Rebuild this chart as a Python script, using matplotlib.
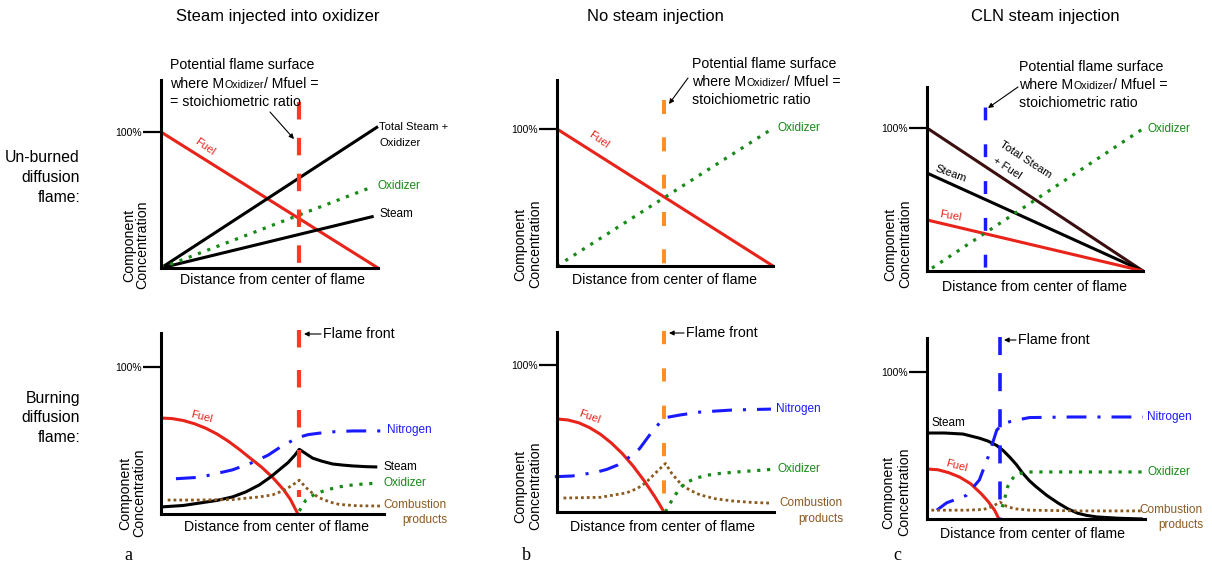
import matplotlib
matplotlib.use('Agg')
import matplotlib.pyplot as plt
from matplotlib import font_manager as fm
from matplotlib.transforms import Affine2D
from matplotlib.patches import FancyArrowPatch

# ---------------- data (x: fraction of distance axis, y: fraction of 100%) -------------
# Panel a (steam injected into oxidizer) - unburned
a_top_fuel_x = [0.0, 1.0];   a_top_fuel_y = [1.0, 0.0]
a_top_total_x = [0.0, 1.0];  a_top_total_y = [0.0, 1.04]
a_top_oxid_x = [0.0, 0.98];  a_top_oxid_y = [0.0, 0.60]
a_top_steam_x = [0.0, 0.98]; a_top_steam_y = [0.0, 0.38]
a_top_flame_x = 0.636;       a_top_flame_y = [1.22, 0.0]

# Panel a - burning
a_bot_fuel_x = [0.0, 0.05, 0.10, 0.15, 0.20, 0.25, 0.30, 0.35, 0.40, 0.45, 0.50, 0.55, 0.58, 0.614]
a_bot_fuel_y = [0.653, 0.649, 0.636, 0.614, 0.584, 0.545, 0.497, 0.441, 0.38, 0.32, 0.25, 0.165, 0.10, 0.0]
a_bot_steam_x = [0.0, 0.10, 0.175, 0.25, 0.32, 0.38, 0.44, 0.49, 0.53, 0.57, 0.60, 0.62,
                 0.65, 0.68, 0.72, 0.77, 0.82, 0.86, 0.92, 0.97]
a_bot_steam_y = [0.048, 0.058, 0.075, 0.092, 0.116, 0.150, 0.197, 0.25, 0.30, 0.35, 0.40, 0.44,
                 0.41, 0.38, 0.36, 0.34, 0.332, 0.327, 0.322, 0.32]
a_bot_nitro_x = [0.067, 0.175, 0.32, 0.41, 0.48, 0.54, 0.614, 0.66, 0.71, 0.78, 0.86, 0.99]
a_bot_nitro_y = [0.24, 0.25, 0.30, 0.35, 0.40, 0.46, 0.52, 0.54, 0.55, 0.56, 0.565, 0.565]
a_bot_oxid_x = [0.62, 0.635, 0.65, 0.69, 0.74, 0.80, 0.87, 0.97]
a_bot_oxid_y = [0.02, 0.06, 0.095, 0.135, 0.163, 0.185, 0.20, 0.21]
a_bot_comb_x = [0.03, 0.15, 0.32, 0.44, 0.50, 0.55, 0.59, 0.62, 0.65, 0.68, 0.71, 0.76, 0.80, 0.88, 0.995]
a_bot_comb_y = [0.095, 0.095, 0.098, 0.116, 0.13, 0.16, 0.197, 0.23, 0.18, 0.14, 0.11, 0.08, 0.065, 0.056, 0.054]
a_bot_flame_x = 0.619;       a_bot_flame_y = [1.25, 0.116]

# Panel b (no steam injection) - unburned
b_top_fuel_x = [0.0, 1.0];   b_top_fuel_y = [1.0, 0.0]
b_top_oxid_x = [0.0, 0.995]; b_top_oxid_y = [0.0, 1.0]
b_top_flame_x = 0.495;       b_top_flame_y = [1.21, 0.0]

# Panel b - burning
b_bot_fuel_x = [0.0, 0.05, 0.10, 0.15, 0.20, 0.25, 0.30, 0.35, 0.40, 0.45, 0.47, 0.493]
b_bot_fuel_y = [0.633, 0.626, 0.607, 0.574, 0.529, 0.470, 0.399, 0.314, 0.216, 0.106, 0.058, 0.0]
b_bot_nitro_x = [-0.01, 0.07, 0.18, 0.23, 0.28, 0.33, 0.38, 0.44, 0.493, 0.567, 0.66, 0.81, 0.986]
b_bot_nitro_y = [0.24, 0.245, 0.27, 0.29, 0.32, 0.37, 0.43, 0.55, 0.64, 0.66, 0.68, 0.694, 0.70]
b_bot_oxid_x = [0.50, 0.515, 0.53, 0.56, 0.59, 0.64, 0.69, 0.75, 0.81, 0.90, 0.99]
b_bot_oxid_y = [0.0, 0.045, 0.08, 0.15, 0.197, 0.23, 0.25, 0.262, 0.27, 0.28, 0.29]
b_bot_comb_x = [0.03, 0.20, 0.32, 0.37, 0.41, 0.45, 0.50, 0.53, 0.567, 0.61, 0.66, 0.73, 0.81, 0.90, 0.99]
b_bot_comb_y = [0.095, 0.10, 0.13, 0.16, 0.20, 0.26, 0.33, 0.26, 0.197, 0.15, 0.116, 0.09, 0.075, 0.065, 0.06]
b_bot_flame_x = 0.493;       b_bot_flame_y = [1.23, 0.10]

# Panel c (CLN steam injection) - unburned
c_top_total_x = [0.0, 1.0];  c_top_total_y = [1.0, 0.0]
c_top_steam_x = [0.0, 1.0];  c_top_steam_y = [0.685, 0.0]
c_top_fuel_x = [0.0, 1.0];   c_top_fuel_y = [0.357, 0.0]
c_top_oxid_x = [0.023, 0.995]; c_top_oxid_y = [0.02, 0.99]
c_top_flame_x = 0.27;        c_top_flame_y = [1.15, 0.0]

# Panel c - burning
c_bot_steam_x = [0.0, 0.08, 0.165, 0.24, 0.28, 0.32, 0.35, 0.38, 0.41, 0.44, 0.47, 0.50, 0.55, 0.60,
                 0.645, 0.69, 0.73, 0.78, 0.88, 0.99]
c_bot_steam_y = [0.585, 0.585, 0.578, 0.55, 0.53, 0.50, 0.465, 0.42, 0.37, 0.31, 0.26, 0.22, 0.16, 0.11,
                 0.07, 0.04, 0.025, 0.014, 0.005, 0.0]
c_bot_fuel_x = [0.0, 0.05, 0.10, 0.15, 0.20, 0.25, 0.28, 0.31, 0.33]
c_bot_fuel_y = [0.34, 0.335, 0.315, 0.285, 0.24, 0.17, 0.12, 0.06, 0.0]
c_bot_nitro_x = [0.045, 0.09, 0.18, 0.24, 0.28, 0.32, 0.35, 0.40, 0.47, 0.66, 0.99]
c_bot_nitro_y = [0.06, 0.11, 0.16, 0.265, 0.42, 0.605, 0.65, 0.67, 0.69, 0.694, 0.694]
c_bot_oxid_x = [0.345, 0.36, 0.37, 0.385, 0.40, 0.43, 0.46, 0.60, 0.80, 0.99]
c_bot_oxid_y = [0.08, 0.16, 0.22, 0.26, 0.29, 0.31, 0.32, 0.32, 0.32, 0.32]
c_bot_comb_x = [0.02, 0.18, 0.26, 0.30, 0.335, 0.36, 0.40, 0.47, 0.70, 0.98]
c_bot_comb_y = [0.06, 0.06, 0.065, 0.085, 0.115, 0.09, 0.07, 0.06, 0.055, 0.055]
c_bot_flame_x = 0.335;       c_bot_flame_y = [1.24, 0.0]

titles = ["Steam injected into oxidizer", "No steam injection", "CLN steam injection"]
row_labels = [["Un-burned", "diffusion", "flame:"], ["Burning", "diffusion", "flame:"]]
panel_letters = ["a", "b", "c"]

# ---------------- fonts -------------
def pick(names):
    for n in names:
        try:
            fm.findfont(fm.FontProperties(family=n), fallback_to_default=False)
            return n
        except Exception:
            pass
    return 'DejaVu Sans'

NARROW = pick(['Liberation Sans Narrow', 'Arial Narrow'])
if NARROW == 'DejaVu Sans':
    SANS, K = pick(['Liberation Sans', 'Arial']), 0.85
else:
    SANS, K = NARROW, 1.0
REG = pick(['Liberation Sans', 'Arial'])
SERIF = pick(['Liberation Serif', 'Times New Roman', 'DejaVu Serif'])

RED = '#E8231A'
FLAME_A = '#FF3B1F'
ORANGE = '#FF8C1F'
BLUE = '#1A1AFF'
GREEN = '#178A17'
BROWN = '#8C5A1E'
DARKBROWN = '#3B0F0F'

W, H = 1212, 565
fig = plt.figure(figsize=(W / 100, H / 100), dpi=100)
PX = Affine2D().scale(1 / W, -1 / H).translate(0, 1) + fig.transFigure


def T(x, y, s, size, color='black', ha='left', va='center', rot=0, family=None, **kw):
    return fig.text(x, y, s, transform=PX, fontsize=size * (K if family is None else 1),
                    color=color, ha=ha, va=va, rotation=rot,
                    family=family or SANS, rotation_mode='anchor' if rot else 'default', **kw)


def panel(x0, x1, top, ybot, y100):
    ax = fig.add_axes([x0 / W, 1 - ybot / H, (x1 - x0) / W, (ybot - top) / H])
    ax.set_xlim(0, 1)
    ax.set_ylim(0, (ybot - top) / (ybot - y100))
    ax.patch.set_visible(False)
    for s in ['top', 'right']:
        ax.spines[s].set_visible(False)
    for s in ['left', 'bottom']:
        ax.spines[s].set_linewidth(2.2)
    ax.set_xticks([])
    ax.set_yticks([1.0])
    ax.set_yticklabels(['100%'], family=REG, fontsize=7.5)
    ax.tick_params(axis='y', length=13, width=1.6, pad=0.5)
    return ax


LW = 2.2
NITRO = (0, (6.5, 3.6, 1, 3.6))
DOT_G = (0, (1, 2.1))
DOT_B = (0, (1, 1.1))


def line(ax, x, y, color, ls='-', lw=LW, **kw):
    ax.plot(x, y, color=color, ls=ls, lw=lw, clip_on=False, solid_capstyle='butt', **kw)


def flame(ax, x, y, color, dashes, lw):
    ax.plot([x, x], y, color=color, lw=lw, ls=(0, dashes), clip_on=False)


def arrow(p0, p1):
    fig.add_artist(FancyArrowPatch(p0, p1, transform=PX, arrowstyle='-|>', mutation_scale=7,
                                   lw=0.8, color='black', shrinkA=0, shrinkB=0))


def rich(x, y, parts):
    r = fig.canvas.get_renderer()
    for s, size in parts:
        t = fig.text(x, y, s, transform=PX, fontsize=size * K, family=SANS, va='baseline', ha='left')
        x += t.get_window_extent(r).width


def stoich(x, ys, eq_first=False):
    rich(x, ys[0], [("Potential flame surface", 12)])
    rich(x, ys[1], [("where M", 12), ("Oxidizer", 9), ("/ Mfuel =", 12)])
    rich(x, ys[2], [(("= " if eq_first else "") + "stoichiometric ratio", 12)])


def ylabel(xa, xb, ybottom):
    T(xa, ybottom, "Component", 12, ha='center', va='bottom', rot=90)
    T(xb, ybottom, "Concentration", 12, ha='center', va='bottom', rot=90)


def comb_label(xr, y1, y2):
    T(xr, y1, "Combustion", 10, color=BROWN, ha='right')
    T(xr, y2, "products", 10, color=BROWN, ha='right')


# ---------------- titles & row labels ----------------
T(278, 17, titles[0], 14, ha='center')
T(655, 17, titles[1], 14, ha='center')
T(1045, 17, titles[2], 14, ha='center')
for i, yy in enumerate([158, 178, 198]):
    T(80, yy, row_labels[0][i], 13.4, ha='right')
for i, yy in enumerate([398, 418, 438]):
    T(80, yy, row_labels[1][i], 13.4, ha='right')
T(128, 556, panel_letters[0], 13, ha='center', family=SERIF)
T(526, 555, panel_letters[1], 13, ha='center', family=SERIF)
T(897, 556, panel_letters[2], 13, ha='center', family=SERIF)

# ---------------- panel a top ----------------
ax = panel(161, 378, 80, 268, 132)
line(ax, a_top_fuel_x, a_top_fuel_y, RED)
line(ax, a_top_total_x, a_top_total_y, 'black')
line(ax, a_top_steam_x, a_top_steam_y, 'black')
line(ax, a_top_oxid_x, a_top_oxid_y, GREEN, ls=DOT_G, lw=2.3)
flame(ax, a_top_flame_x, a_top_flame_y, FLAME_A, (4.2, 4.4), 3.0)
stoich(170, [69, 88, 106], eq_first=True)
arrow((270, 112), (294, 139))
T(205, 147, "Fuel", 9.5, color=RED, ha='center', rot=-35)
T(379, 127, "Total Steam +", 9.5)
T(379, 143, "Oxidizer", 9.5)
T(378, 186, "Oxidizer", 10, color=GREEN)
T(379, 214, "Steam", 10)
ylabel(136, 149, 245)
T(273, 280, "Distance from center of flame", 12, ha='center')

# ---------------- panel a bottom ----------------
ax = panel(161, 384, 333, 514, 367)
line(ax, a_bot_fuel_x, a_bot_fuel_y, RED)
line(ax, a_bot_nitro_x, a_bot_nitro_y, BLUE, ls=NITRO)
line(ax, a_bot_steam_x, a_bot_steam_y, 'black')
line(ax, a_bot_comb_x, a_bot_comb_y, BROWN, ls=DOT_B, lw=2.0)
line(ax, a_bot_oxid_x, a_bot_oxid_y, GREEN, ls=DOT_G, lw=2.3)
flame(ax, a_bot_flame_x, a_bot_flame_y, FLAME_A, (4.2, 5.4), 3.0)
arrow((321, 334), (304, 334))
T(323, 334, "Flame front", 12)
T(202, 417, "Fuel", 9.5, color=RED, ha='center', rot=-15)
T(387, 430, "Nitrogen", 10, color=BLUE)
T(383, 467, "Steam", 10)
T(383, 483, "Oxidizer", 10, color=GREEN)
comb_label(447, 505, 520)
ylabel(132, 146, 493)
T(277, 527, "Distance from center of flame", 12, ha='center')

# ---------------- panel b top ----------------
ax = panel(557, 773, 80, 266, 129)
line(ax, b_top_fuel_x, b_top_fuel_y, RED)
line(ax, b_top_oxid_x, b_top_oxid_y, GREEN, ls=DOT_G, lw=2.3)
flame(ax, b_top_flame_x, b_top_flame_y, ORANGE, (3.6, 6.0), 2.8)
stoich(692, [68, 86, 104])
arrow((688, 78), (669, 104))
T(599, 140, "Fuel", 9.5, color=RED, ha='center', rot=-35)
T(777, 128, "Oxidizer", 10, color=GREEN)
ylabel(527, 542, 244)
T(665, 280, "Distance from center of flame", 12, ha='center')

# ---------------- panel b bottom ----------------
ax = panel(557, 774, 332, 512, 365)
line(ax, b_bot_fuel_x, b_bot_fuel_y, RED)
line(ax, b_bot_nitro_x, b_bot_nitro_y, BLUE, ls=NITRO)
line(ax, b_bot_comb_x, b_bot_comb_y, BROWN, ls=DOT_B, lw=2.0)
line(ax, b_bot_oxid_x, b_bot_oxid_y, GREEN, ls=DOT_G, lw=2.3)
flame(ax, b_bot_flame_x, b_bot_flame_y, ORANGE, (3.4, 6.2), 2.8)
arrow((684, 333), (669, 333))
T(686, 333, "Flame front", 12)
T(589, 417, "Fuel", 9.5, color=RED, ha='center', rot=-20)
T(776, 409, "Nitrogen", 10, color=BLUE)
T(777, 469, "Oxidizer", 10, color=GREEN)
comb_label(843, 503, 519)
ylabel(527, 542, 486)
T(662, 527, "Distance from center of flame", 12, ha='center')

# ---------------- panel c top ----------------
ax = panel(927, 1143, 87, 271, 128)
line(ax, c_top_total_x, c_top_total_y, DARKBROWN)
line(ax, c_top_steam_x, c_top_steam_y, 'black')
line(ax, c_top_fuel_x, c_top_fuel_y, RED)
line(ax, c_top_oxid_x, c_top_oxid_y, GREEN, ls=DOT_G, lw=2.3)
flame(ax, c_top_flame_x, c_top_flame_y, BLUE, (3.7, 6.9), 2.5)
stoich(1019, [71, 89, 107])
arrow((1018, 87), (988, 108))
T(1026, 160, "Total Steam", 9.5, ha='center', rot=-33)
T(1007, 168, "+ Fuel", 9.5, ha='center', rot=-33)
T(951, 174, "Steam", 9.5, ha='center', rot=-20)
T(950, 216, "Fuel", 9.5, color=RED, ha='center', rot=-10)
T(1147, 129, "Oxidizer", 10, color=GREEN)
ylabel(897, 912, 244)
T(1034, 287, "Distance from center of flame", 12, ha='center')

# ---------------- panel c bottom ----------------
ax = panel(927, 1145, 338, 519, 372)
line(ax, c_bot_fuel_x, c_bot_fuel_y, RED)
line(ax, c_bot_steam_x, c_bot_steam_y, 'black')
line(ax, c_bot_nitro_x, c_bot_nitro_y, BLUE, ls=NITRO)
line(ax, c_bot_comb_x, c_bot_comb_y, BROWN, ls=DOT_B, lw=2.0)
line(ax, c_bot_oxid_x, c_bot_oxid_y, GREEN, ls=DOT_G, lw=2.3)
flame(ax, c_bot_flame_x, c_bot_flame_y, BLUE, (5.0, 5.0), 2.6)
arrow((1016, 340), (1004, 340))
T(1018, 340, "Flame front", 12)
T(932, 423, "Steam", 10)
T(957, 466, "Fuel", 9.5, color=RED, ha='center', rot=-15)
T(1147, 417, "Nitrogen", 10, color=BLUE)
T(1147, 472, "Oxidizer", 10, color=GREEN)
comb_label(1203, 510, 525)
ylabel(895, 911, 492)
T(1033, 534, "Distance from center of flame", 12, ha='center')

fig.savefig('out.png', dpi=100)
